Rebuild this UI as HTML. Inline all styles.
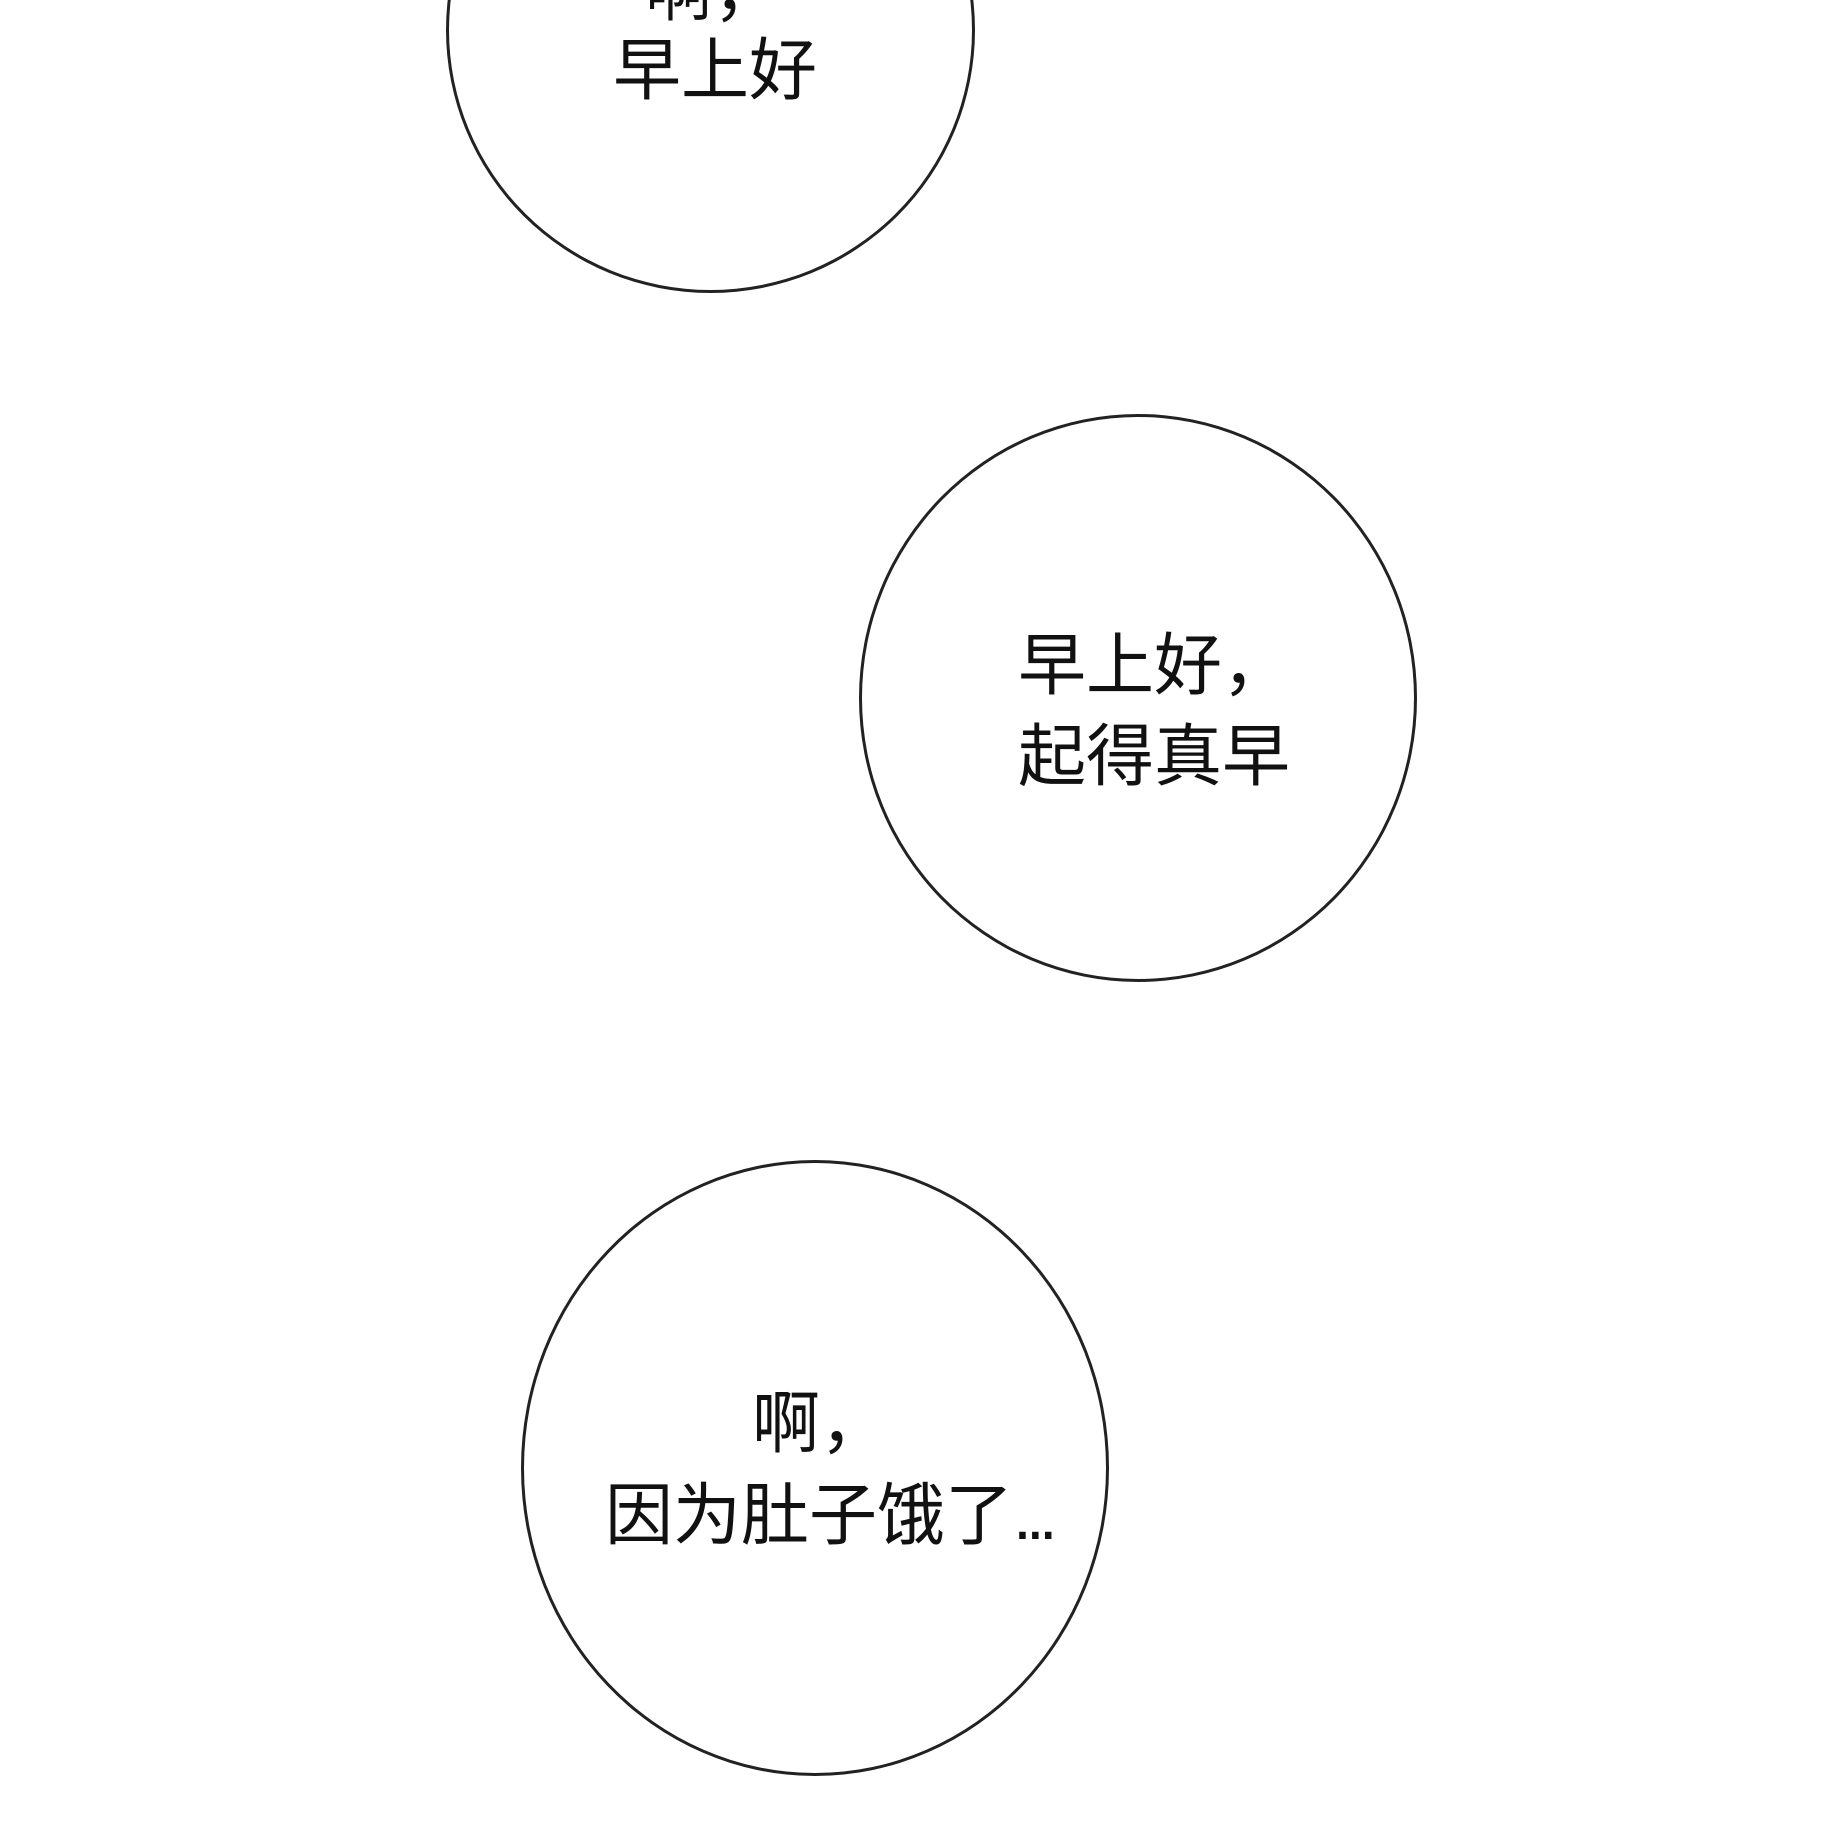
<!DOCTYPE html>
<html><head><meta charset="utf-8"><style>
html,body{margin:0;padding:0;background:#fff;}
body{width:1830px;height:1830px;position:relative;overflow:hidden;}
.c{position:absolute;border:3px solid #222;border-radius:50%;box-sizing:border-box;background:#fff;}
.t{position:absolute;font-family:"Liberation Sans","Noto Sans CJK SC",sans-serif;font-size:68px;line-height:1;color:#111;white-space:nowrap;}
</style></head><body>
<div class="c" style="left:446px;top:-233px;width:529px;height:526px;"></div>
<div class="t" style="left:645px;top:-42px;">啊，</div>
<div class="t" style="left:613px;top:37px;">早上好</div>

<div class="c" style="left:859px;top:414px;width:558px;height:568px;"></div>
<div class="t" style="left:1018px;top:632px;">早上好，</div>
<div class="t" style="left:1018px;top:723px;">起得真早</div>

<div class="c" style="left:521px;top:1160px;width:588px;height:616px;"></div>
<div class="t" style="left:752px;top:1390px;">啊，</div>
<div class="t" style="left:605px;top:1482px;">因为肚子饿了<span style="letter-spacing:-6px">...</span></div>
</body></html>
